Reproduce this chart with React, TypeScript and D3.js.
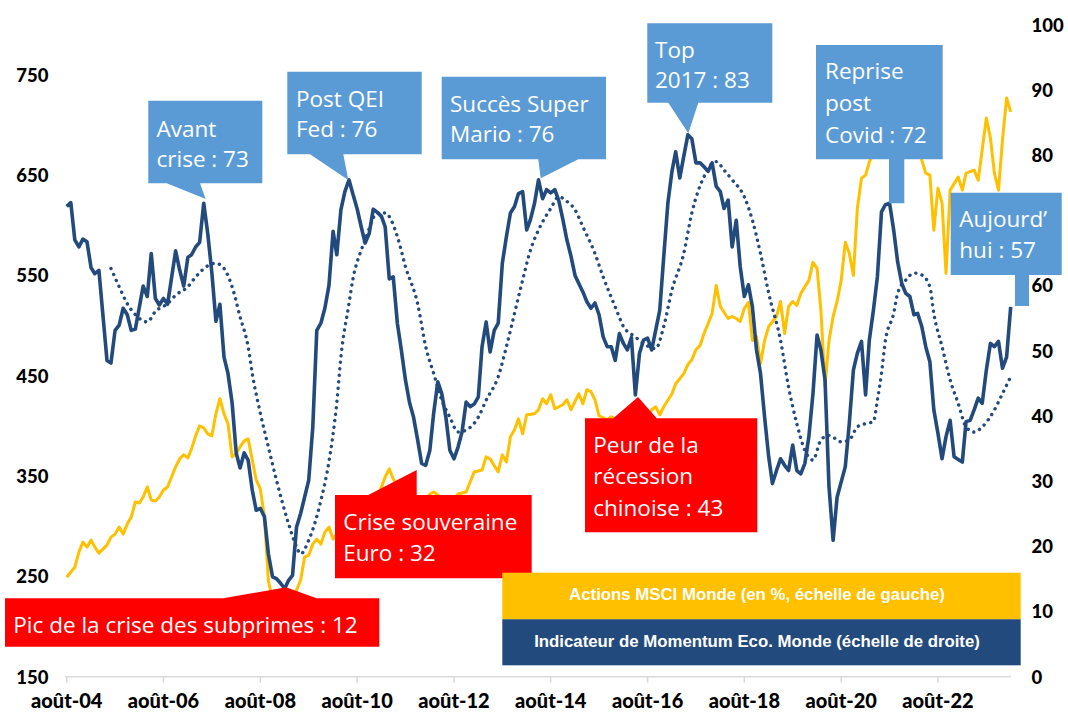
import React from 'react';
import * as d3 from 'd3';

const W = 1068;
const H = 713;

// months counted from août-2004
const xTickMonths = [0, 24, 48, 72, 96, 120, 144, 168, 192, 216];
const xTickLabels = ['août-04', 'août-06', 'août-08', 'août-10', 'août-12', 'août-14', 'août-16', 'août-18', 'août-20', 'août-22'];
const leftTicks = [150, 250, 350, 450, 550, 650, 750];
// the "70" label is hidden behind the "Aujourd'hui" callout in the reference
const rightTicks = [0, 10, 20, 30, 40, 50, 60, 80, 90, 100];

const legendLabels = [
  'Actions MSCI Monde (en %, échelle de gauche)',
  'Indicateur de Momentum Eco. Monde (échelle de droite)',
];

// [month index, value] – Actions MSCI Monde (left axis)
const msciWorld: [number, number][] = [
  [0, 249], [2, 259], [3, 274], [4, 284], [5, 279], [6, 286], [7, 279], [8, 273], [9, 277], [10, 281],
  [11, 289], [12, 292], [13, 299], [14, 292], [15, 302], [16, 309], [17, 324], [18, 323], [19, 329], [20, 339],
  [21, 326], [22, 325], [23, 329], [24, 336], [25, 339], [26, 349], [27, 359], [28, 367], [29, 371], [30, 368],
  [31, 377], [32, 390], [33, 400], [34, 398], [35, 392], [36, 390], [37, 412], [38, 427], [39, 412], [40, 402],
  [41, 369], [42, 372], [43, 379], [44, 385], [45, 387], [46, 366], [47, 346], [48, 337], [49, 309], [50, 245],
  [51, 228], [52, 215], [53, 222], [54, 208], [55, 215], [56, 228], [57, 236], [58, 246], [59, 269], [60, 271],
  [61, 282], [62, 287], [63, 282], [64, 294], [65, 299], [66, 287], [67, 292], [69, 305], [71, 312], [73, 318],
  [75, 322], [77, 328], [79, 349], [80, 357], [81, 347], [82, 341], [84, 328], [86, 322], [88, 320], [90, 332],
  [91, 334], [92, 331], [94, 325], [96, 326], [97, 332], [99, 334], [100, 344], [101, 354], [103, 356], [104, 369],
  [105, 367], [107, 354], [108, 371], [109, 364], [110, 389], [111, 396], [112, 407], [113, 392], [114, 411], [116, 412],
  [117, 416], [118, 427], [119, 422], [120, 431], [121, 417], [123, 421], [124, 426], [125, 416], [127, 432], [128, 422],
  [129, 436], [130, 434], [131, 426], [132, 410], [134, 406], [135, 409], [136, 407], [138, 400], [140, 396], [142, 392],
  [145, 416], [146, 419], [147, 411], [148, 419], [150, 432], [151, 442], [152, 447], [153, 452], [154, 461], [155, 466],
  [156, 476], [157, 480], [158, 492], [159, 502], [160, 512], [161, 540], [162, 519], [164, 507], [165, 509], [166, 507],
  [167, 504], [168, 517], [169, 523], [170, 485], [171, 489], [172, 462], [173, 485], [174, 499], [176, 509], [177, 524],
  [178, 492], [179, 519], [180, 524], [181, 520], [182, 532], [184, 545], [185, 563], [186, 557], [187, 515], [188, 440],
  [189, 485], [190, 509], [191, 524], [192, 545], [193, 583], [194, 572], [195, 550], [196, 617], [197, 647], [198, 650],
  [199, 663], [201, 680], [203, 695], [205, 702], [207, 700], [209, 708], [211, 690], [212, 665], [213, 652], [214, 650],
  [215, 595], [216, 637], [217, 622], [218, 552], [219, 635], [221, 648], [222, 635], [223, 652], [225, 655], [226, 645],
  [228, 707], [229, 687], [230, 652], [231, 635], [232, 685], [233, 727], [234, 713],
];

// [month index, value] – Indicateur de Momentum Eco. Monde (right axis)
const momentum: [number, number][] = [
  [0, 72.1], [1, 72.7], [2, 67], [3, 65.9], [4, 67.1], [5, 66.7], [6, 62.7], [7, 61.8], [8, 62.3], [10, 48.5],
  [11, 48.1], [12, 53.1], [13, 53.9], [14, 56.5], [15, 55.5], [16, 53.1], [17, 53.3], [19, 59.9], [20, 58.3], [21, 64.9],
  [22, 58], [23, 57], [24, 58], [25, 57.1], [27, 65.3], [28, 62.4], [29, 59.9], [30, 64.3], [31, 64.7], [32, 65.9],
  [33, 66.6], [34, 72.6], [35, 68], [36, 62], [37, 54.5], [38, 57.1], [39, 49], [40, 46.5], [41, 42], [42, 34.3],
  [43, 32], [44, 34.3], [45, 33.2], [46, 28.6], [47, 25.5], [48, 25.8], [49, 24.5], [50, 18.8], [51, 15.3], [52, 15],
  [53, 14.3], [54, 13.5], [55, 14.7], [56, 15.5], [57, 22.9], [58, 25], [59, 27.5], [60, 30.1], [61, 38.3], [62, 53.1],
  [63, 54.2], [64, 56.5], [65, 60], [66, 68.3], [67, 64.7], [68, 71.6], [69, 74.4], [70, 76.2], [71, 74], [72, 71.8],
  [73, 69], [74, 66.5], [75, 68], [76, 71.7], [77, 71.2], [78, 70.6], [79, 69], [80, 61], [81, 61.3], [82, 54.2],
  [83, 50.1], [84, 45.5], [85, 42], [86, 39.8], [87, 36.3], [88, 32.7], [89, 32.4], [90, 34.7], [91, 40.4], [92, 45.2],
  [93, 43.4], [94, 39.8], [95, 34.7], [96, 33.4], [97, 35.2], [98, 37.5], [99, 42.1], [100, 41.4], [101, 41.8], [102, 42.9],
  [103, 50.6], [104, 54.4], [105, 49.8], [106, 53.1], [107, 54.2], [108, 63.4], [109, 67.5], [110, 71.1], [111, 72.1], [112, 74.1],
  [113, 74.4], [114, 68.5], [115, 70.1], [116, 72.6], [117, 76.2], [118, 73.3], [119, 74.7], [120, 74.2], [121, 74.7], [122, 73],
  [123, 70.1], [124, 67], [125, 64.5], [126, 61.5], [127, 60.3], [128, 59], [129, 57.5], [130, 56.5], [131, 57.3], [132, 55.5],
  [133, 52.1], [134, 50.6], [135, 50.6], [136, 48.5], [137, 52.6], [138, 51.1], [139, 50.1], [140, 52], [141, 43.2], [142, 49.6],
  [143, 51.6], [144, 51.9], [145, 50.1], [146, 53.1], [147, 56.2], [148, 64.4], [149, 72.6], [150, 77.5], [151, 80.5], [152, 76.5],
  [153, 79.8], [154, 83.1], [155, 82.5], [156, 78.8], [157, 78.8], [158, 78.2], [159, 77.5], [160, 78.8], [161, 75.2], [162, 74.4],
  [163, 71.8], [164, 73.1], [165, 65.9], [166, 70], [167, 62.9], [168, 58.3], [169, 60.1], [170, 56.7], [171, 50.1], [172, 46.5],
  [173, 39.8], [174, 33.7], [175, 29.6], [176, 31.6], [177, 33.4], [178, 32.4], [179, 31.6], [180, 35.5], [181, 31.6], [182, 31.1],
  [183, 32.7], [184, 36.8], [185, 43.4], [186, 52.4], [187, 50.1], [188, 45.5], [189, 29.1], [190, 20.9], [191, 27.5], [193, 32.2],
  [194, 38.8], [195, 47], [196, 49.6], [197, 51.4], [198, 43.2], [199, 51.6], [200, 56.2], [201, 61.3], [202, 71.3], [203, 72.4],
  [204, 72.6], [205, 68.5], [206, 63.6], [207, 60.3], [208, 58.8], [209, 58.3], [210, 55.5], [211, 55.7], [212, 53.7], [213, 50.6],
  [214, 48.3], [215, 40.9], [216, 37.3], [217, 33.4], [218, 36.8], [219, 39.3], [220, 33.7], [221, 33.3], [222, 32.9], [223, 39.1],
  [224, 39.3], [225, 40.9], [226, 42.7], [227, 41.9], [228, 47], [229, 51.1], [230, 50.6], [231, 51.4], [232, 47.3], [233, 49],
  [234, 56.7],
];

// [month index, value] – dotted trend of the momentum indicator (right axis)
const momentumTrend: [number, number][] = [
  [11, 62.6], [13, 59.8], [15, 57.2], [17, 55.5], [20, 54.4], [22, 56], [25, 57.2], [27, 58.5], [30, 59.8], [32, 61.3],
  [35, 63], [37, 63.4], [39, 62.6], [41, 59.8], [43, 55.2], [45, 50.6], [46, 46.5], [48, 40.4], [50, 35.2], [52, 30.1],
  [55, 23.5], [57, 19.9], [58, 18.8], [60, 20.9], [63, 27], [65, 33], [67, 42], [68, 49], [70, 57.2], [71, 61],
  [73, 65.4], [74, 67], [77, 71.1], [79, 71.1], [82, 67.5], [84, 62.9], [87, 57.2], [89, 50.6], [91, 46.5], [93, 42.4],
  [95, 39.8], [97, 37.5], [99, 37.8], [102, 39.8], [104, 42.4], [107, 46], [109, 50.6], [111, 55.7], [113, 60.8], [115, 65.4],
  [117, 68.5], [120, 71.8], [122, 73.6], [124, 72.9], [126, 71.6], [128, 69], [131, 64.9], [133, 61.3], [136, 56.7], [138, 53.7],
  [141, 52.1], [143, 51.1], [146, 50.3], [148, 53.7], [150, 59.3], [153, 64.9], [155, 71.1], [158, 76.7], [161, 79], [163, 77.7],
  [165, 76.2], [168, 73.6], [170, 70], [172, 64.9], [174, 58.8], [177, 51.6], [179, 44.4], [181, 38.8], [183, 34.7], [185, 33.2],
  [187, 36.3], [189, 37], [192, 36], [194, 36.3], [196, 38.3], [198, 38.8], [200, 39.1], [201, 42.4], [202, 46.5], [203, 51.6],
  [205, 55.7], [206, 58.8], [208, 60.8], [210, 61.9], [212, 61.6], [214, 59.8], [215, 55.7], [217, 50.6], [219, 45.5], [221, 41.9],
  [223, 38.3], [225, 37.5], [227, 38.3], [230, 40.9], [232, 43.4], [234, 46],
];

const monthDate = (m: number) => new Date(2004, 7 + m, 1);

const BLUE = '#234a7d';
const GOLD = '#ffc000';
const CALLOUT_BLUE = '#5b9bd5';
const RED = '#ff0000';

type Callout = { path: string; fill: string; tx: number; lines: string[]; baselines: number[] };

const callouts: Callout[] = [
  { path: 'M148.3,100.7 H262.3 V183.3 H200 L205.7,199 L166.7,183.3 H148.3 Z', fill: CALLOUT_BLUE, tx: 156.5, lines: ['Avant', 'crise : 73'], baselines: [136.7, 166.7] },
  { path: 'M287.3,71.7 H421.7 V154.3 H343.3 L348.3,180 L310,154.3 H287.3 Z', fill: CALLOUT_BLUE, tx: 296, lines: ['Post QEI', 'Fed : 76'], baselines: [107.3, 137.3] },
  { path: 'M441.7,76.7 H606 V159.3 H578.3 L540.7,178.3 L538.3,159.3 H441.7 Z', fill: CALLOUT_BLUE, tx: 450, lines: ['Succès Super', 'Mario : 76'], baselines: [111.7, 142] },
  { path: 'M647.3,23.3 H772.3 V102.7 H698.3 L688.3,133.3 L668.3,102.7 H647.3 Z', fill: CALLOUT_BLUE, tx: 655, lines: ['Top', '2017 : 83'], baselines: [58.3, 88.3] },
  { path: 'M816,45 H942.7 V159.3 H904.3 V203.3 H889 V159.3 H816 Z', fill: CALLOUT_BLUE, tx: 825, lines: ['Reprise', 'post', 'Covid : 72'], baselines: [78.5, 110.5, 143] },
  { path: 'M950.7,192.7 H1061.7 V275 H1029 V306 H1015 V275 H950.7 Z', fill: CALLOUT_BLUE, tx: 959.3, lines: ['Aujourd’', 'hui : 57'], baselines: [226.7, 258.3] },
  { path: 'M5,598.3 H223.3 L286,587.3 L316.7,598.3 H379.3 V646.7 H5 Z', fill: RED, tx: 13.3, lines: ['Pic de la crise des subprimes : 12'], baselines: [632.7] },
  { path: 'M335,495 H368.3 L416.7,470 V495 H531.7 V578.3 H335 Z', fill: RED, tx: 343.3, lines: ['Crise souveraine', 'Euro : 32'], baselines: [530, 560.7] },
  { path: 'M585,418.3 H613.3 L638,397 L656.7,418.3 H757.3 V532.3 H585 Z', fill: RED, tx: 593.3, lines: ['Peur de la', 'récession', 'chinoise : 43'], baselines: [453.3, 484.3, 516] },
];

export default function App() {
  const x = d3.scaleTime().domain([monthDate(0), monthDate(234)]).range([66.7, 1010.7]);
  const yL = d3.scaleLinear().domain([150, 800]).range([676.5, 24.7]);
  const yR = d3.scaleLinear().domain([0, 100]).range([676.5, 24.7]);

  const lineLeft = d3.line<[number, number]>().x((d) => x(monthDate(d[0]))).y((d) => yL(d[1]));
  const lineRight = d3.line<[number, number]>().x((d) => x(monthDate(d[0]))).y((d) => yR(d[1]));
  const lineTrend = d3
    .line<[number, number]>()
    .curve(d3.curveMonotoneX)
    .x((d) => x(monthDate(d[0])))
    .y((d) => yR(d[1]));

  const axisY = 676.7;
  const axisFont = 'Lato, "Open Sans", sans-serif';

  return (
    <svg
      width={W}
      height={H}
      viewBox={`0 0 ${W} ${H}`}
      style={{ position: 'absolute', left: 0, top: 0, display: 'block', background: '#fff' }}
    >
      <rect x={0} y={0} width={W} height={H} fill="#fff" />

      {/* x axis */}
      <line x1={65} x2={1011} y1={axisY} y2={axisY} stroke="#d9d9d9" strokeWidth={1.5} />
      {xTickMonths.map((m, i) => (
        <g key={m}>
          <line x1={x(monthDate(m))} x2={x(monthDate(m))} y1={axisY} y2={axisY + 6} stroke="#d9d9d9" strokeWidth={1.5} />
          <text
            x={x(monthDate(m))}
            y={708}
            textAnchor="middle"
            fontFamily={axisFont}
            fontWeight={900}
            fontSize={20}
            fill="#000"
          >
            {xTickLabels[i]}
          </text>
        </g>
      ))}

      {/* left axis labels */}
      {leftTicks.map((t) => (
        <text
          key={`l${t}`}
          x={48.5}
          y={yL(t)}
          textAnchor="end"
          dominantBaseline="central"
          fontFamily={axisFont}
          fontWeight={900}
          fontSize={18.5}
          fill="#000"
        >
          {t}
        </text>
      ))}

      {/* right axis labels */}
      {rightTicks.map((t) => (
        <text
          key={`r${t}`}
          x={1031.5}
          y={yR(t)}
          textAnchor="start"
          dominantBaseline="central"
          fontFamily={axisFont}
          fontWeight={900}
          fontSize={18.5}
          fill="#000"
        >
          {t}
        </text>
      ))}

      {/* series */}
      <path d={lineLeft(msciWorld) || ''} fill="none" stroke={GOLD} strokeWidth={3} strokeLinejoin="round" />
      <path
        d={lineTrend(momentumTrend) || ''}
        fill="none"
        stroke={BLUE}
        strokeWidth={3.4}
        strokeDasharray="0.1 6.4"
        strokeLinecap="round"
      />
      <path d={lineRight(momentum) || ''} fill="none" stroke={BLUE} strokeWidth={3.6} strokeLinejoin="round" />

      {/* callouts */}
      {callouts.map((c, i) => (
        <g key={i}>
          <path d={c.path} fill={c.fill} />
          {c.lines.map((ln, j) => (
            <text
              key={j}
              x={c.tx}
              y={c.baselines[j]}
              fontFamily='"Open Sans", "Noto Sans", sans-serif'
              fontSize={22.5}
              fill="#fff"
            >
              {ln}
            </text>
          ))}
        </g>
      ))}

      {/* legend */}
      <rect x={502.3} y={572.7} width={518.4} height={46.8} fill={GOLD} />
      <rect x={502.3} y={619.3} width={518.4} height={46} fill={BLUE} />
      <text
        x={757}
        y={600}
        textAnchor="middle"
        fontFamily='"Liberation Sans", Arial, sans-serif'
        fontWeight={700}
        fontSize={16.8}
        fill="#fff"
      >
        {legendLabels[0]}
      </text>
      <text
        x={757}
        y={646.7}
        textAnchor="middle"
        fontFamily='"Liberation Sans", Arial, sans-serif'
        fontWeight={700}
        fontSize={16.8}
        fill="#fff"
      >
        {legendLabels[1]}
      </text>
    </svg>
  );
}
